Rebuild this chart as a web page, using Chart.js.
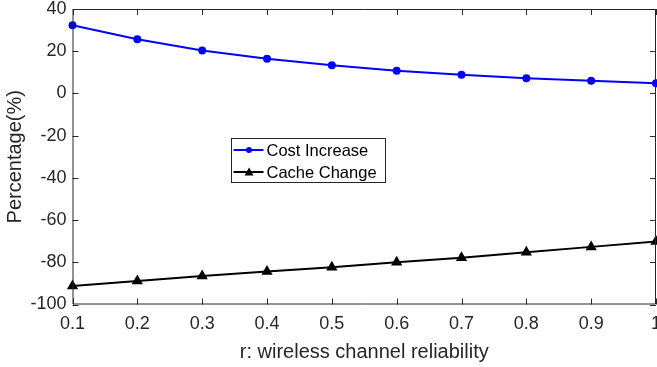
<!DOCTYPE html>
<html>
<head>
<meta charset="utf-8">
<script src="https://cdn.jsdelivr.net/npm/chart.js@4.4.1/dist/chart.umd.min.js"></script>
<style>
html,body{margin:0;padding:0;background:#fff;}
#wrap{width:657px;height:367px;position:relative;}
</style>
</head>
<body>
<div id="wrap"><canvas id="c" width="657" height="367"></canvas></div>
<script>
const categories = [0.1, 0.2, 0.3, 0.4, 0.5, 0.6, 0.7, 0.8, 0.9, 1.0];
const costIncrease = [32.3, 25.7, 20.3, 16.4, 13.3, 10.8, 8.9, 7.2, 6.0, 4.8];
const cacheChange = [-91.2, -88.9, -86.5, -84.4, -82.3, -80.0, -77.8, -75.2, -72.7, -70.2];
const xTickLabels = ['0.1','0.2','0.3','0.4','0.5','0.6','0.7','0.8','0.9','1'];
const yTicks = [-100, -80, -60, -40, -20, 0, 20, 40];
const seriesNames = ['Cost Increase', 'Cache Change'];

const FONT = 'Liberation Sans, Arial, Helvetica, sans-serif';

const boxTicks = {
  id: 'boxTicks',
  afterDatasetsDraw(chart) {
    const {ctx, chartArea: a, scales} = chart;
    ctx.save();
    ctx.strokeStyle = '#262626';
    ctx.lineWidth = 1;
    ctx.beginPath();
    ctx.rect(a.left + 0.5, a.top + 0.5, a.right - a.left - 1, a.bottom - a.top - 1);
    ctx.stroke();
    const L = 6;
    ctx.beginPath();
    scales.x.ticks.forEach((t, i) => {
      const x = Math.round(scales.x.getPixelForTick(i)) + 0.5;
      ctx.moveTo(x, a.bottom); ctx.lineTo(x, a.bottom - L);
      ctx.moveTo(x, a.top); ctx.lineTo(x, a.top + L);
    });
    scales.y.ticks.forEach((t, i) => {
      const y = Math.round(scales.y.getPixelForTick(i)) + 0.5;
      ctx.moveTo(a.left, y); ctx.lineTo(a.left + L, y);
      ctx.moveTo(a.right, y); ctx.lineTo(a.right - L, y);
    });
    ctx.stroke();
    ctx.restore();
  }
};

const boxLegend = {
  id: 'boxLegend',
  afterDraw(chart) {
    const ctx = chart.ctx;
    const x0 = 231.5, y0 = 138.5, w = 154, h = 44;
    ctx.save();
    ctx.fillStyle = '#fff';
    ctx.fillRect(x0, y0, w, h);
    ctx.strokeStyle = '#262626';
    ctx.lineWidth = 1;
    ctx.strokeRect(x0, y0, w, h);
    ctx.font = '16.5px ' + FONT;
    ctx.textBaseline = 'middle';
    ctx.textAlign = 'left';
    chart.data.datasets.forEach((ds, i) => {
      const yy = y0 + 11.5 + i * 22;
      ctx.strokeStyle = ds.borderColor;
      ctx.lineWidth = 2;
      ctx.beginPath();
      ctx.moveTo(x0 + 2, yy); ctx.lineTo(x0 + 32, yy);
      ctx.stroke();
      ctx.fillStyle = ds.pointBackgroundColor;
      const cx = x0 + 17.5;
      if (ds.pointStyle === 'triangle') {
        ctx.beginPath();
        ctx.moveTo(cx, yy - 4.5); ctx.lineTo(cx + 4.5, yy + 3.5); ctx.lineTo(cx - 4.5, yy + 3.5);
        ctx.closePath(); ctx.fill();
      } else {
        ctx.beginPath(); ctx.arc(cx, yy, 3, 0, Math.PI * 2); ctx.fill();
      }
      ctx.fillStyle = '#000';
      ctx.fillText(seriesNames[i], x0 + 35, yy + 1);
    });
    ctx.restore();
  }
};

new Chart(document.getElementById('c'), {
  type: 'line',
  data: {
    labels: categories,
    datasets: [
      {
        label: seriesNames[0],
        data: categories.map((x, i) => ({x, y: costIncrease[i]})),
        borderColor: '#0000ff',
        backgroundColor: '#0000ff',
        pointBackgroundColor: '#0000ff',
        pointBorderColor: '#0000ff',
        pointStyle: 'circle',
        pointRadius: 3,
        borderWidth: 2,
        tension: 0,
        clip: false
      },
      {
        label: seriesNames[1],
        data: categories.map((x, i) => ({x, y: cacheChange[i]})),
        borderColor: '#000000',
        backgroundColor: '#000000',
        pointBackgroundColor: '#000000',
        pointBorderColor: '#000000',
        pointStyle: 'triangle',
        pointRadius: 4.5,
        borderWidth: 2,
        tension: 0,
        clip: false
      }
    ]
  },
  options: {
    responsive: false,
    animation: false,
    devicePixelRatio: 1,
    layout: { autoPadding: false, padding: { top: 9, right: 1, left: 0, bottom: 0 } },
    plugins: { legend: { display: false }, tooltip: { enabled: false } },
    scales: {
      x: {
        type: 'linear',
        min: 0.1, max: 1,
        afterBuildTicks(scale) { scale.ticks = categories.map(v => ({value: v})); },
        afterFit(scale) { scale.height = 62.5; scale.paddingLeft = 0; scale.paddingRight = 0; },
        grid: { display: false, drawTicks: false },
        border: { display: false },
        ticks: {
          color: '#262626',
          font: { family: FONT, size: 18 },
          padding: 9,
          maxRotation: 0,
          autoSkip: false,
          callback(v, i) { return xTickLabels[i]; }
        },
        title: {
          display: true,
          text: 'r: wireless channel reliability',
          color: '#262626',
          font: { family: FONT, size: 20 },
          padding: { top: 0, bottom: 3 }
        }
      },
      y: {
        min: -100, max: 40,
        afterBuildTicks(scale) { scale.ticks = yTicks.map(v => ({value: v})); },
        afterFit(scale) { scale.width = 72.5; scale.paddingTop = 0; scale.paddingBottom = 0; },
        grid: { display: false, drawTicks: false },
        border: { display: false },
        ticks: {
          color: '#262626',
          font: { family: FONT, size: 18 },
          padding: 6,
          autoSkip: false
        },
        title: {
          display: true,
          text: 'Percentage(%)',
          color: '#262626',
          font: { family: FONT, size: 20 },
          padding: { top: 3, bottom: 0 }
        }
      }
    }
  },
  plugins: [boxTicks, boxLegend]
});
</script>
</body>
</html>
